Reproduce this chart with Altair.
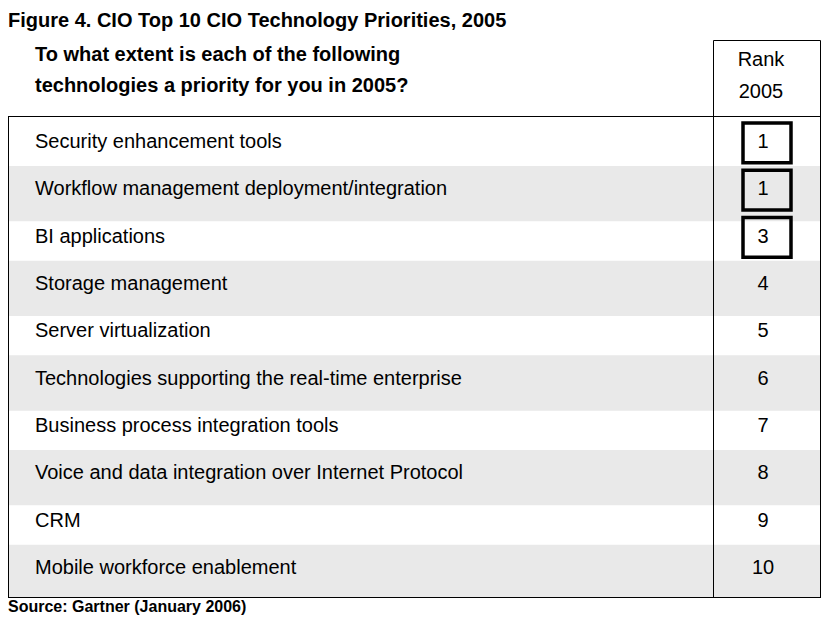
import altair as alt
import pandas as pd

# ---- data ----
title_text = "Figure 4. CIO Top 10 CIO Technology Priorities, 2005"
question_lines = ["To what extent is each of the following",
                  "technologies a priority for you in 2005?"]
rank_header = ["Rank", "2005"]
source_text = "Source: Gartner (January 2006)"

technologies = [
    "Security enhancement tools",
    "Workflow management deployment/integration",
    "BI applications",
    "Storage management",
    "Server virtualization",
    "Technologies supporting the real-time enterprise",
    "Business process integration tools",
    "Voice and data integration over Internet Protocol",
    "CRM",
    "Mobile workforce enablement",
]
ranks = [1, 1, 3, 4, 5, 6, 7, 8, 9, 10]
highlighted = [True, True, True, False, False, False, False, False, False, False]

df = pd.DataFrame({
    "row": list(range(len(technologies))),
    "tech": technologies,
    "rank": [str(r) for r in ranks],
    "hl": highlighted,
})
df["shade"] = df["row"] % 2 == 1
df["lo"] = df["row"] - 0.62
df["hi"] = (df["row"] + 0.55).clip(upper=9.49)
df["blo"] = df["row"] - 0.53
df["bhi"] = df["row"] + 0.31

FONT = "Liberation Sans"
yscale = alt.Scale(domain=[0, 9], range=[140, 566], zero=False, nice=False)

base = alt.Chart(df)

bands = base.transform_filter("datum.shade").mark_rect(color="#e9e9e9").encode(
    x=alt.value(0), x2=alt.value(812.5),
    y=alt.Y("lo:Q", scale=yscale, axis=None), y2="hi:Q",
)

labels = base.mark_text(align="left", baseline="alphabetic", font=FONT,
                        fontSize=20, color="black").encode(
    x=alt.value(27), y=alt.Y("row:Q", scale=yscale, axis=None), text="tech:N",
)

rank_txt = base.mark_text(align="center", baseline="alphabetic", font=FONT,
                          fontSize=20, color="black").encode(
    x=alt.value(755), y=alt.Y("row:Q", scale=yscale, axis=None), text="rank:N",
)

boxes = base.transform_filter("datum.hl").mark_rect(
    filled=False, stroke="black", strokeWidth=3.5).encode(
    x=alt.value(735), x2=alt.value(783),
    y=alt.Y("blo:Q", scale=yscale, axis=None), y2="bhi:Q",
)

one = alt.Chart(pd.DataFrame({"k": [0]}))

def rule(x, x2, y, y2):
    return one.mark_rule(color="black", strokeWidth=1).encode(
        x=alt.value(x), x2=alt.value(x2), y=alt.value(y), y2=alt.value(y2))

TOP, BOT = 108.5, 589.5
frame = [
    rule(0, 813, TOP, TOP),             # table top
    rule(0, 813, BOT, BOT),             # table bottom
    rule(0.5, 0.5, TOP, BOT),           # left
    rule(812.5, 812.5, 32.5, BOT),      # right
    rule(705.5, 705.5, 32.5, BOT),      # rank column
    rule(705.5, 812.5, 32.5, 32.5),     # rank header top
]

def txt(s, x, y, size=20, bold=False, align="left"):
    return one.mark_text(align=align, baseline="alphabetic", font=FONT,
                         fontSize=size, fontWeight="bold" if bold else "normal",
                         color="black", text=s).encode(
        x=alt.value(x), y=alt.value(y))

texts = [
    txt(title_text, 0, 18.5, 20, True),
    txt(question_lines[0], 27, 53, 20, True),
    txt(question_lines[1], 27, 84, 20, True),
    txt(rank_header[0], 753, 58, 20, False, "center"),
    txt(rank_header[1], 753, 90, 20, False, "center"),
    txt(source_text, 0, 604, 16, True),
]

chart = alt.layer(bands, *frame, labels, rank_txt, boxes, *texts).properties(
    width=813, height=608, autosize="none", padding=0,
).configure_view(stroke=None)

chart.save("out.html", embed_options={"renderer": "svg", "actions": False})
